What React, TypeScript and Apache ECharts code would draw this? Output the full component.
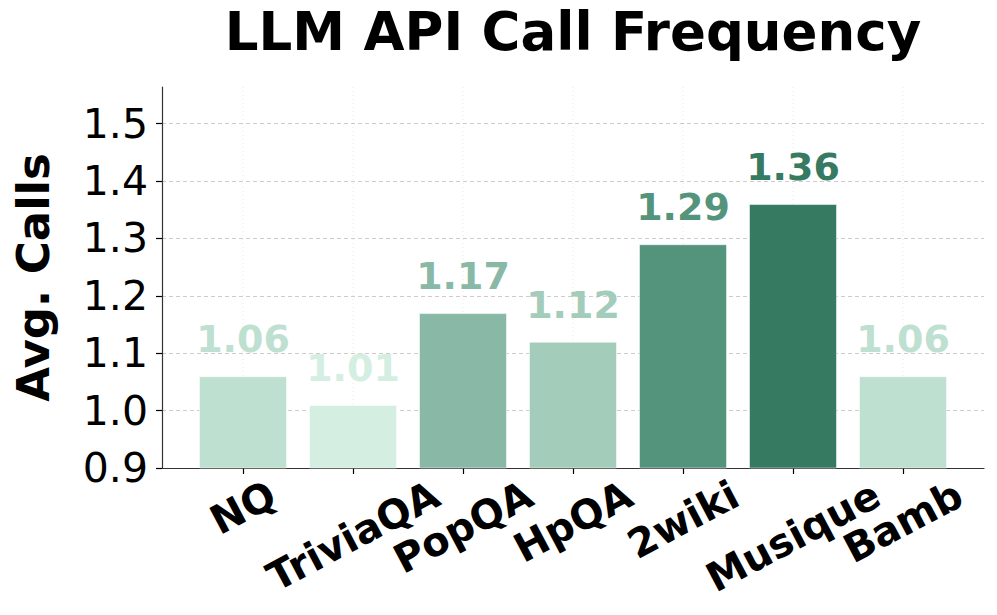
import React, { useEffect, useRef } from "react";
import * as echarts from "echarts";

const categories = ["NQ", "TriviaQA", "PopQA", "HpQA", "2wiki", "Musique", "Bamb"];
const values = [1.06, 1.01, 1.17, 1.12, 1.29, 1.36, 1.06];
const barColors = ["#bee0d1", "#d5eee2", "#89b9a6", "#a3ccbb", "#55947c", "#357a61", "#bee0d1"];
const yTicks = [0.9, 1.0, 1.1, 1.2, 1.3, 1.4, 1.5];

const FONT = "'DejaVu Sans', sans-serif";
const Y_MIN = 0.9;
const Y_MAX = 1.564;
const Y_TICK_MAX = 1.5;
const X_FS = 40;
const X_ROT = 28;
const X_PAD = 3;

const GRID_TOP = 87;
const GRID_BOTTOM = 147;
const PLOT_H = 615 - GRID_TOP - GRID_BOTTOM;

let measureCtx: CanvasRenderingContext2D | null = null;
function measure(text: string): number {
  if (!measureCtx) {
    const c = document.createElement("canvas");
    measureCtx = c.getContext("2d");
  }
  if (!measureCtx) return text.length * X_FS * 0.6;
  measureCtx.font = `bold ${X_FS}px 'DejaVu Sans'`;
  return measureCtx.measureText(text).width;
}

export default function App() {
  const ref = useRef<HTMLDivElement>(null);
  useEffect(() => {
    if (!ref.current) return;
    const chart = echarts.init(ref.current, null, { renderer: "svg" });
    const labelGridTop = GRID_TOP + ((Y_MAX - Y_TICK_MAX) / (Y_MAX - Y_MIN)) * PLOT_H;
    const th = (X_ROT * Math.PI) / 180;
    chart.setOption({
      animation: false,
      backgroundColor: "#ffffff",
      title: {
        text: "LLM API Call Frequency",
        left: 573,
        top: 5,
        padding: 0,
        textAlign: "center",
        textStyle: { fontFamily: FONT, fontSize: 53, fontWeight: "bold", color: "#000" },
      },
      grid: [
        { left: 188, right: 39, top: GRID_TOP, bottom: GRID_BOTTOM },
        { left: 162, right: 13, top: GRID_TOP, bottom: GRID_BOTTOM },
        { left: 162, right: 13, top: labelGridTop, bottom: GRID_BOTTOM },
      ],
      xAxis: [
        {
          type: "category",
          gridIndex: 0,
          data: categories,
          axisLine: { show: false },
          axisTick: { show: true, alignWithLabel: true, length: 6, lineStyle: { color: "#000", width: 1.2 } },
          axisLabel: { show: false },
          splitLine: { show: false },
        },
        {
          type: "value",
          gridIndex: 1,
          min: 0,
          max: 1,
          axisLine: { show: true, lineStyle: { color: "#333", width: 1.2 } },
          axisTick: { show: false },
          axisLabel: { show: false },
          splitLine: { show: false },
        },
        {
          type: "value",
          gridIndex: 2,
          min: 0,
          max: 1,
          show: false,
        },
      ],
      yAxis: [
        {
          type: "value",
          gridIndex: 0,
          min: Y_MIN,
          max: Y_MAX,
          show: false,
        },
        {
          type: "value",
          gridIndex: 1,
          min: 0,
          max: 1,
          axisLine: { show: true, lineStyle: { color: "#333", width: 1.2 } },
          axisTick: { show: false },
          axisLabel: { show: false },
          splitLine: { show: false },
          name: "Avg. Calls",
          nameLocation: "middle",
          nameGap: 106,
          nameTextStyle: { fontFamily: FONT, fontSize: 45, fontWeight: "bold", color: "#000" },
        },
        {
          type: "value",
          gridIndex: 2,
          min: yTicks[0],
          max: yTicks[yTicks.length - 1],
          interval: 0.1,
          axisLine: { show: false },
          axisTick: { show: true, length: 6, lineStyle: { color: "#000", width: 1.2 } },
          axisLabel: {
            fontFamily: FONT,
            fontSize: 41,
            color: "#000",
            margin: 14,
            formatter: (v: number) => v.toFixed(1),
          },
          splitLine: { show: true, lineStyle: { color: "#cccccc", type: [4, 3], width: 1 } },
        },
      ],
      series: [
        {
          type: "custom",
          xAxisIndex: 0,
          yAxisIndex: 0,
          clip: false,
          z: 1,
          silent: true,
          data: values.map((v, i) => [i, v]),
          encode: { x: 0, y: 1 },
          renderItem: (params: any, api: any) => {
            const i = api.value(0);
            const p0 = api.coord([i, Y_MIN]);
            const p1 = api.coord([i, Y_MAX]);
            const label = categories[i];
            const w = measure(label);
            const h = X_FS * 1.164;
            const H = w * Math.sin(th) + h * Math.cos(th);
            return {
              type: "group",
              children: [
                {
                  type: "line",
                  shape: { x1: p0[0], y1: p0[1], x2: p1[0], y2: p1[1] },
                  style: { stroke: "rgba(0,0,0,0.09)", lineWidth: 1, lineDash: [1, 3] },
                },
                {
                  type: "text",
                  x: p0[0],
                  y: p0[1] + X_PAD + H / 2,
                  rotation: th,
                  style: {
                    text: label,
                    fontFamily: FONT,
                    fontSize: X_FS,
                    fontWeight: "bold",
                    fill: "#000",
                    align: "center",
                    verticalAlign: "middle",
                  },
                },
              ],
            };
          },
        },
        {
          type: "bar",
          xAxisIndex: 0,
          yAxisIndex: 0,
          z: 2,
          barWidth: "80%",
          data: values.map((v, i) => ({
            value: v,
            itemStyle: { color: barColors[i], borderColor: "rgba(255,255,255,0.5)", borderWidth: 1 },
            label: { color: barColors[i] },
          })),
          label: {
            show: true,
            position: "top",
            distance: 18,
            fontFamily: FONT,
            fontSize: 38,
            fontWeight: "bold",
            formatter: (p: any) => Number(p.value).toFixed(2),
          },
        },
      ],
    });
    return () => chart.dispose();
  }, []);
  return <div ref={ref} style={{ width: 997, height: 615, margin: -8 }} />;
}
